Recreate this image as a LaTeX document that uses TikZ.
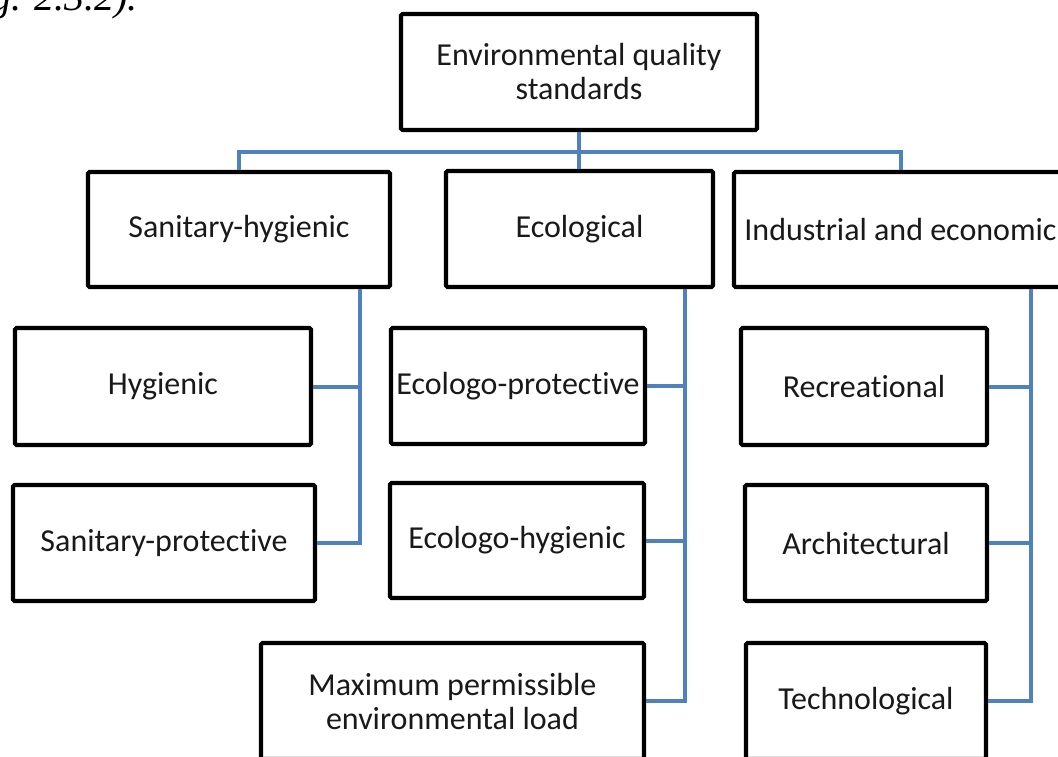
\documentclass[tikz,border=0pt]{standalone}
\usepackage{fontspec}
\setmainfont[Ligatures={NoCommon}]{Carlito}
\newfontfamily\serifcap{Liberation Serif}
\definecolor{linkblue}{RGB}{79,129,189}
\tikzset{
  box/.style={draw=black, line width=4.2pt, rounded corners=1.5pt, fill=white,
    inner sep=0pt, align=center, text=black!90,
    font=\fontsize{32}{34}\selectfont},
  conn/.style={draw=linkblue, line width=4pt}
}
\begin{document}
\begin{tikzpicture}[x=1pt, y=-1pt]
\useasboundingbox (0,0) rectangle (1058,756);
\fill[white] (0,0) rectangle (1058,756);

% running text of the page above the chart
\node[anchor=base west, inner sep=0pt, font=\serifcap\itshape\fontsize{40}{40}\selectfont] (caption) at (-9,10) {g. 2.3.2).};

% helper coordinates for the bus and the three spines
\coordinate (bus) at (580,152);
\coordinate (spL) at (360,0);
\coordinate (spM) at (685,0);
\coordinate (spR) at (1031,0);

% boxes
\node[box, minimum width=356pt, minimum height=116pt] (top) at (579,72) {Environmental quality\\standards};
\node[box, minimum width=302pt, minimum height=115pt] (sh) at (239,229.5) {Sanitary-hygienic};
\node[box, minimum width=267pt, minimum height=116pt] (eco) at (579.5,229) {Ecological};
\node[box, minimum width=333pt, minimum height=115pt] (ind) at (900.5,229.5) {Industrial and economic};

\node[box, minimum width=296pt, minimum height=117pt] (hyg) at (163,386.5) {Hygienic};
\node[box, minimum width=302pt, minimum height=116pt] (sp) at (164,543) {Sanitary-protective};

\node[box, minimum width=254pt, minimum height=116pt] (ep) at (518,386) {Ecologo-protective};
\node[box, minimum width=254pt, minimum height=115pt] (eh) at (517,540.5) {Ecologo-hygienic};
\node[box, minimum width=383pt, minimum height=116pt] (mpe) at (452.5,701) {Maximum permissible\\environmental load};

\node[box, minimum width=246pt, minimum height=117pt] (rec) at (864,386.5) {Recreational};
\node[box, minimum width=242pt, minimum height=116pt] (arch) at (866,543) {Architectural};
\node[box, minimum width=240pt, minimum height=116pt] (tech) at (866,701) {Technological};

% top level
\draw[conn] (top.south) -- (top.south |- eco.north);
\draw[conn] (sh.north) -- (sh.north |- bus) -| (ind.north);

% sanitary-hygienic branch
\draw[conn] (sh.south -| spL) |- (sp.east);
\draw[conn] (hyg.east) -- (hyg.east -| spL);

% ecological branch
\draw[conn] (eco.south -| spM) |- (mpe.east);
\draw[conn] (ep.east) -- (ep.east -| spM);
\draw[conn] (eh.east) -- (eh.east -| spM);

% industrial and economic branch
\draw[conn] (ind.south -| spR) |- (tech.east);
\draw[conn] (rec.east) -- (rec.east -| spR);
\draw[conn] (arch.east) -- (arch.east -| spR);
\end{tikzpicture}
\end{document}
